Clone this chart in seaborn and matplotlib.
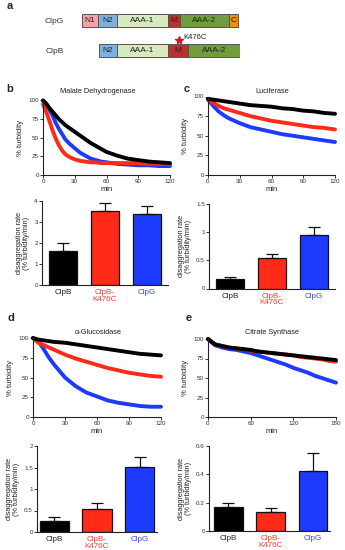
import numpy as np
import pandas as pd
import matplotlib
matplotlib.use("Agg")
import matplotlib.pyplot as plt
import seaborn as sns

sns.set_style("ticks")
plt.rcParams["font.family"] = ["Liberation Sans", "DejaVu Sans"]

# Domain architecture (arbitrary length units)
clpg_domains = ["N1", "N2", "AAA-1", "M", "AAA-2", "C"]
clpg_start = [0, 16, 35, 86, 98, 147]
clpg_end = [16, 35, 86, 98, 147, 156]
clpb_domains = ["N2", "AAA-1", "M", "AAA-2"]
clpb_start = [17, 35, 86, 106]
clpb_end = [35, 86, 106, 158]
mutation_pos = 97
domain_colors = {"N1": "#f2a3a6", "N2": "#7cb1e2", "AAA-1": "#d6e9bf",
                 "M": "#b8322f", "AAA-2": "#6f9c3d", "C": "#f28a0c"}

# Turbidity time courses (% turbidity vs min)
mdh_t = [0, 3, 6, 9, 12, 15, 18, 21, 25, 30, 35, 40, 45, 50, 55, 60, 70, 80, 90, 100, 110, 120]
mdh_clpb = [100, 96, 90, 85, 80, 75, 71, 67, 63, 58, 53, 48, 43, 39, 35, 31, 26, 22, 20, 18, 17, 16]
mdh_k476c = [95, 85, 73, 60, 49, 40, 33, 28, 24, 21, 19, 18, 17, 17, 16, 16, 16, 16, 16, 15, 15, 15]
mdh_clpg = [100, 95, 88, 80, 70, 62, 55, 48, 42, 36, 30, 26, 22, 20, 18, 17, 15, 14, 13, 13, 12, 12]

luc_t = [0, 5, 10, 15, 20, 30, 40, 50, 60, 70, 80, 90, 100, 110, 120]
luc_clpb = [97, 96, 95, 94, 93, 91, 89, 88, 87, 85, 84, 82, 81, 79, 78]
luc_k476c = [96, 92, 88, 85, 83, 79, 75, 72, 69, 67, 65, 63, 61, 60, 58]
luc_clpg = [96, 88, 81, 76, 72, 66, 61, 58, 55, 52, 50, 48, 46, 44, 42]

glu_t = [0, 5, 10, 15, 20, 30, 40, 50, 60, 70, 80, 90, 100, 110, 120]
glu_clpb = [100, 98, 97, 96, 95, 94, 92, 90, 88, 86, 84, 82, 80, 79, 78]
glu_k476c = [100, 94, 91, 88, 85, 79, 74, 70, 66, 62, 59, 56, 54, 52, 51]
glu_clpg = [100, 96, 86, 75, 66, 50, 39, 31, 26, 21, 18, 16, 14, 13, 13]

cs_t = [0, 10, 20, 30, 40, 50, 60, 70, 80, 90, 100, 110, 120, 130, 140, 150, 160, 170, 180]
cs_clpb = [100, 93, 91, 89, 88, 87, 86, 84, 83, 82, 81, 80, 79, 78, 77, 76, 75, 74, 73]
cs_k476c = [100, 93, 91, 89, 88, 87, 85, 84, 83, 82, 81, 80, 79, 77, 76, 75, 74, 72, 71]
cs_clpg = [100, 92, 89, 87, 86, 84, 82, 79, 76, 73, 70, 67, 63, 60, 57, 53, 50, 47, 44]

# Disaggregation rates (% turbidity/min), mean and SD
variants = ["ClpB", "ClpB-\nK476C", "ClpG"]
mdh_rate = [1.62, 3.52, 3.38]
mdh_err = [0.38, 0.38, 0.38]
luc_rate = [0.175, 0.54, 0.95]
luc_err = [0.03, 0.08, 0.14]
glu_rate = [0.26, 0.54, 1.52]
glu_err = [0.09, 0.14, 0.23]
cs_rate = [0.17, 0.135, 0.425]
cs_err = [0.03, 0.025, 0.125]

colors = ["#000000", "#ff2a17", "#1c3bff"]
W, H = 345, 550

fig = plt.figure(figsize=(W / 100, H / 100), dpi=100)


def place(x0, x1, y_top, y_bot):
    return fig.add_axes([x0 / W, 1 - y_bot / H, (x1 - x0) / W, (y_bot - y_top) / H])


def style(ax):
    sns.despine(ax=ax)
    for s in ["left", "bottom"]:
        ax.spines[s].set_linewidth(0.8)
        ax.spines[s].set_color("#222222")
    ax.tick_params(labelsize=4.5, length=2, width=0.7, pad=1, colors="#333333")


# ---- panel a: domain architecture
ax = place(82, 240, 5, 66)
for row, (names, st, en) in enumerate([(clpg_domains, clpg_start, clpg_end),
                                         (clpb_domains, clpb_start, clpb_end)]):
    widths = np.array(en) - np.array(st)
    ax.barh([row] * len(names), widths, left=st, height=0.42,
            color=[domain_colors[n] for n in names], edgecolor="#555555", linewidth=0.7)
    for n, s, w in zip(names, st, widths):
        ax.text(s + w / 2, row, n, ha="center", va="center", fontsize=6, color="#222222")
ax.plot(mutation_pos, 0.64, marker="*", color="#c8202a", ms=6, clip_on=False)
ax.text(mutation_pos + 4, 0.58, "K476C", fontsize=5.5, va="center", color="#222222")
ax.set_xlim(0, 158)
ax.set_ylim(1.5, -0.5)
ax.set_yticks([0, 1], ["ClpG", "ClpB"])
ax.tick_params(axis="y", length=0, pad=13, labelsize=6, colors="#333333")
ax.set_xticks([])
sns.despine(ax=ax, left=True, bottom=True)


# ---- line panels
def line_panel(box, t, series, xticks, title, title_pos):
    ax = place(*box)
    for v, c in zip(series[::-1], colors[::-1]):
        sns.lineplot(x=t, y=v, color=c, lw=2.8, ax=ax, clip_on=False)
    ax.set_xlim(0, xticks[-1])
    ax.set_ylim(0, 100)
    ax.set_xticks(xticks)
    ax.set_yticks([0, 25, 50, 75, 100])
    ax.set_xlabel("min", fontsize=5.5, labelpad=1.5)
    ax.set_ylabel("% turbidity", fontsize=5.5, labelpad=3)
    style(ax)
    fig.text(title_pos[0] / W, 1 - title_pos[1] / H, title, ha="center", va="center",
             fontsize=5.3, color="#222222")
    return ax


line_panel((43, 170, 100.5, 175), mdh_t, [mdh_clpb, mdh_k476c, mdh_clpg],
           [0, 30, 60, 90, 120], "Malate Dehydrogenase", (98, 91))
line_panel((208, 335, 96.5, 175), luc_t, [luc_clpb, luc_k476c, luc_clpg],
           [0, 30, 60, 90, 120], "Luciferase", (272, 91))
line_panel((33, 161, 338, 417), glu_t, [glu_clpb, glu_k476c, glu_clpg],
           [0, 30, 60, 90, 120], "α-Glucosidase", (98, 333))
line_panel((208, 336, 339, 417), cs_t, [cs_clpb, cs_k476c, cs_clpg],
           [0, 60, 120, 180], "Citrate Synthase", (272, 332))


# ---- bar panels
def bar_panel(box, xlim, rate, err, yticks, ylabels):
    ax = place(*box)
    df = pd.DataFrame({"variant": variants, "rate": rate})
    sns.barplot(data=df, x="variant", y="rate", hue="variant", palette=colors,
                saturation=1, legend=False, width=0.68, edgecolor="#111111",
                linewidth=0.9, ax=ax)
    ax.errorbar(range(3), rate, yerr=[np.zeros(3), err], fmt="none",
                ecolor="#111111", elinewidth=0.9, capsize=4.5, capthick=0.9, zorder=1)
    ax.set_xlim(*xlim)
    ax.set_ylim(yticks[0], yticks[-1])
    ax.set_yticks(yticks, ylabels)
    ax.set_xlabel("")
    ax.set_ylabel("disaggregation rate\n(% turbidity/min)", fontsize=5.3, labelpad=3,
                  linespacing=1.0)
    style(ax)
    ax.tick_params(axis="x", length=0, labelsize=5.8, pad=3)
    for lab, c in zip(ax.get_xticklabels(), ["#222222", "#ff3b2a", "#3347ff"]):
        lab.set_color(c)
        lab.set_linespacing(0.95)
        lab.set_va("top")
    return ax


bar_panel((42, 168, 201, 285), (-0.5, 2.5), mdh_rate, mdh_err,
          [0, 1, 2, 3, 4], ["0", "1", "2", "3", "4"])
bar_panel((209, 335, 204, 288.5), (-0.5, 2.5), luc_rate, luc_err,
          [0, 0.5, 1, 1.5], ["0", "0.5", "1", "1.5"])
bar_panel((37, 157, 446, 532), (-0.4, 2.4), glu_rate, glu_err,
          [0, 0.5, 1, 1.5, 2], ["0", "0.5", "1", "1.5", "2"])
bar_panel((209, 330, 446, 531), (-0.45, 2.4), cs_rate, cs_err,
          [0, 0.2, 0.4, 0.6], ["0", "0.2", "0.4", "0.6"])

# panel letters
for letter, (x, y) in zip("abcde", [(10, 6), (10, 89), (187, 89), (11, 318), (189, 318)]):
    fig.text(x / W, 1 - y / H, letter, fontsize=8, fontweight="bold", ha="center", va="center")

fig.savefig("out.png", dpi=100)
